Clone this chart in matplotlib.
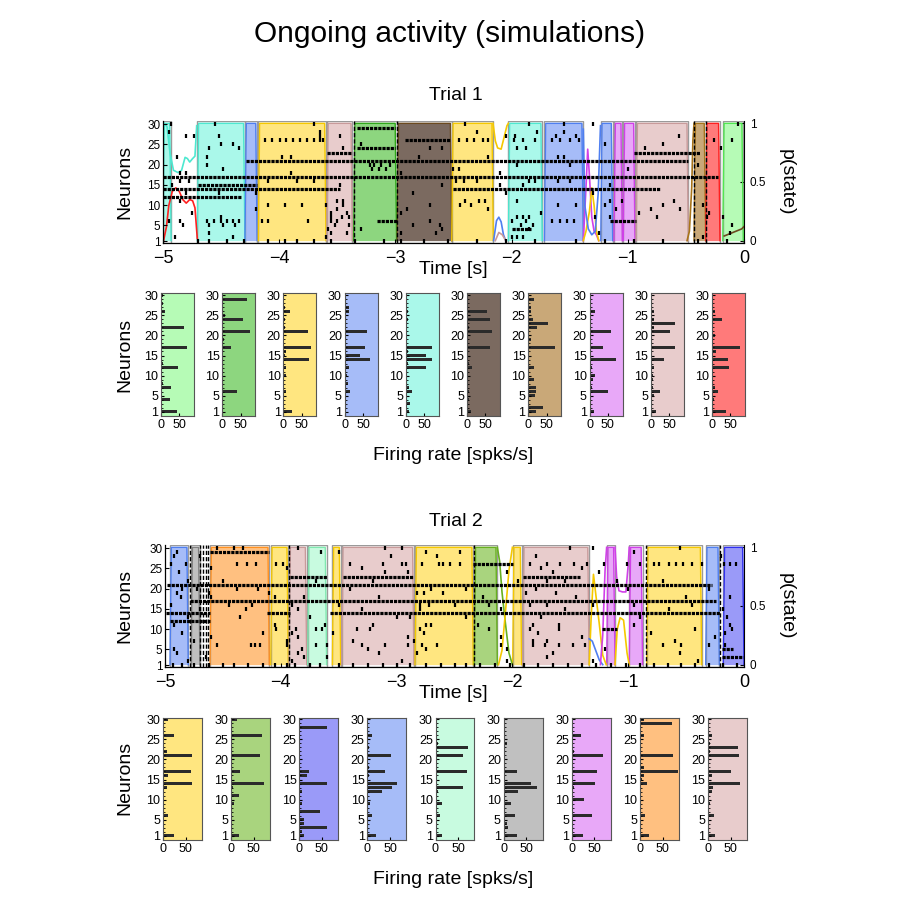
import numpy as np
import matplotlib.pyplot as plt

plt.rcParams['font.family'] = ['Liberation Sans', 'DejaVu Sans']

W = H = 915

# state colours: fill and curve colour
FILL = {
    'lgreen': '#b6fbb6', 'green': '#8dd67f', 'yellow': '#ffe680', 'blue': '#a6bcf8',
    'aqua': '#aaf8ea', 'brown': '#7b6a60', 'tan': '#c9a878', 'violet': '#e8a8f8',
    'pink': '#e8cccc', 'red': '#ff7a7a', 'ygreen': '#a9d47e', 'bviolet': '#9a9af8',
    'mint': '#c8fbe0', 'grey': '#c0c0c0', 'orange': '#ffc080',
}
EDGE = {
    'lgreen': '#50e850', 'green': '#2fa81a', 'yellow': '#f5c800', 'blue': '#4f7ff0',
    'aqua': '#4de8d0', 'brown': '#6b4a20', 'tan': '#a8741a', 'violet': '#d040e8',
    'pink': '#c89a9a', 'red': '#ff2020', 'ygreen': '#68b020', 'bviolet': '#3030f0',
    'mint': '#80e8b0', 'grey': '#808080', 'orange': '#ff9020',
}

neurons = np.arange(1, 31)

# ---------------- Trial 1 ----------------
t1_seg_start = [-5.00, -4.705, -4.295, -4.18, -3.59, -3.36, -2.985, -2.515, -2.028, -1.718,
                -1.233, -1.119, -1.039, -0.929, -0.430, -0.330, -0.183]
t1_seg_end = [-4.93, -4.295, -4.19, -3.597, -3.37, -2.99, -2.515, -2.157, -1.736, -1.383,
              -1.130, -1.047, -0.938, -0.479, -0.330, -0.207, -0.006]
t1_seg_state = ['aqua', 'aqua', 'blue', 'yellow', 'pink', 'green', 'brown', 'yellow', 'aqua', 'blue',
                'blue', 'violet', 'violet', 'pink', 'tan', 'red', 'lgreen']

# dense spike trains: neuron, start, end
t1_dense = [(17, -5.0, -0.22), (14, -5.0, -3.48), (14, -2.50, -0.72), (12, -5.0, -4.33),
            (15, -4.70, -4.19), (21, -4.29, -0.48), (23, -3.59, -3.37), (23, -0.95, -0.38),
            (29, -3.33, -3.00), (24, -3.33, -3.00), (26, -2.92, -2.53), (6, -3.16, -2.99),
            (6, -1.15, -0.93), (4, -2.00, -1.83)]

t1_sparse = {
    30: [-4.93, -4.55, -3.70, -2.40, -1.85, -1.55, -1.30, -0.05],
    28: [-4.95, -3.65, -2.30, -1.78, -1.55],
    27: [-4.80, -4.73, -4.52, -3.65, -3.48, -2.05, -1.97, -1.62, -1.45, -0.56],
    26: [-4.12, -4.06, -3.99, -3.94, -3.88, -3.82, -3.76, -3.70, -3.65, -3.62, -2.45, -2.38,
         -2.32, -2.25, -2.20, -1.98, -1.90, -1.80, -1.65, -1.58, -1.50, -1.42, -0.26, -0.10],
    25: [-4.50, -4.40, -3.30, -1.20, -0.70],
    24: [-4.60, -4.35, -3.45, -2.70, -2.60, -1.95, -1.88, -0.85, -0.20],
    22: [-4.88, -4.62, -3.98, -3.90, -2.80, -2.20, -1.60, -1.55],
    20: [-4.62, -3.22, -3.18, -3.12, -3.05, -1.95, -1.50, -0.40],
    19: [-4.48, -3.20, -3.14, -3.08, -2.50, -2.45, -1.00],
    18: [-4.85, -4.80, -3.90, -2.95, -2.10],
    16: [-4.85, -4.78, -4.10, -3.85, -3.70, -2.48, -2.41, -2.30, -1.85, -1.80, -1.60, -1.50],
    15: [-4.92, -3.48, -2.60, -2.10, -1.90, -1.15],
    13: [-4.80, -4.52, -4.20, -2.85, -2.05, -1.30],
    11: [-4.85, -3.50, -3.45, -2.40, -2.28, -2.23, -1.95, -1.15, -1.05, -0.60],
    10: [-4.10, -3.95, -3.80, -3.60, -3.45, -2.70, -2.44, -2.35, -1.60, -1.45, -1.20, -0.70, -0.35],
    9: [-4.20, -3.50, -2.90, -2.20, -1.10, -0.80, -0.55],
    8: [-4.75, -3.55, -3.42, -2.95, -1.75, -0.90, -0.30],
    7: [-4.50, -3.55, -3.46, -3.40, -1.95, -1.90, -1.85, -1.28, -1.15, -0.75, -0.32, -0.18],
    6: [-4.95, -4.85, -4.62, -4.56, -4.50, -4.45, -4.40, -4.35, -4.15, -4.10, -3.75, -3.55,
        -3.50, -2.70, -2.00, -1.88, -1.65, -1.58, -1.52, -1.46],
    5: [-4.83, -4.60, -4.48, -4.38, -3.52, -3.40, -2.85, -2.62, -1.92, -1.82, -0.10],
    4: [-3.58, -3.30, -2.60, -1.85],
    3: [-4.60, -3.55, -3.42, -2.95, -2.65, -1.25, -0.12],
    2: [-4.90, -4.40, -3.60, -2.00, -1.95, -1.90, -0.35],
    1: [-4.70, -4.60, -4.45, -4.30, -4.10, -3.95, -3.85, -3.70, -3.55, -3.35, -3.10, -2.95,
        -2.75, -2.55, -2.30, -2.05, -1.80, -1.45, -1.20, -0.95, -0.70, -0.40, -0.15],
}
t1_bursts = [-3.36, -2.99, -0.43, -0.33]

# p(state) curves outside the detected states: state, times, probabilities
t1_curves = [
    ('aqua', [-4.99, -4.965, -4.94, -4.91, -4.87, -4.84, -4.81, -4.79, -4.77, -4.745, -4.725, -4.71],
             [1.0, 0.97, 0.75, 0.60, 0.58, 0.60, 0.71, 0.70, 0.67, 0.70, 0.72, 0.98]),
    ('red', [-4.995, -4.97, -4.95, -4.92, -4.89, -4.86, -4.83, -4.80, -4.77, -4.745, -4.725, -4.705],
            [0.0, 0.12, 0.30, 0.42, 0.45, 0.42, 0.35, 0.32, 0.35, 0.34, 0.28, 0.02]),
    ('yellow', [-2.16, -2.14, -2.12, -2.09, -2.06, -2.04, -2.028], [1.0, 0.85, 0.79, 0.78, 0.90, 0.98, 1.0]),
    ('blue', [-2.155, -2.13, -2.11, -2.09, -2.07, -2.05], [0.0, 0.17, 0.20, 0.16, 0.05, 0.0]),
    ('pink', [-2.14, -2.11, -2.08, -2.05], [0.0, 0.07, 0.05, 0.0]),
    ('violet', [-1.383, -1.36, -1.345, -1.33, -1.31, -1.29, -1.27, -1.25],
               [0.0, 0.45, 0.78, 0.55, 0.20, 0.08, 0.05, 0.0]),
    ('yellow', [-1.383, -1.36, -1.33, -1.31, -1.29, -1.27, -1.25], [0.0, 0.08, 0.25, 0.45, 0.30, 0.08, 0.0]),
    ('blue', [-1.383, -1.37, -1.34, -1.31, -1.28, -1.255, -1.235], [0.95, 0.30, 0.10, 0.05, 0.08, 0.40, 0.98]),
    ('tan', [-0.49, -0.47, -0.45, -0.44, -0.43], [0.0, 0.08, 0.45, 0.85, 1.0]),
    ('brown', [-0.17, -0.12, -0.07, -0.02, 0.0], [0.04, 0.06, 0.08, 0.10, 0.12]),
]

t1_hist_states = ['lgreen', 'green', 'yellow', 'blue', 'aqua', 'brown', 'tan', 'violet', 'pink', 'red']
t1_rates = [
    [43, 2, 0, 25, 2, 3, 28, 6, 0, 2, 3, 45, 5, 2, 0, 2, 72, 2, 0, 2, 3, 62, 2, 0, 2, 12, 2, 5, 0, 5],
    [3, 0, 2, 0, 2, 41, 3, 0, 2, 0, 2, 0, 2, 0, 2, 2, 25, 3, 5, 0, 77, 2, 3, 56, 8, 2, 0, 2, 68, 2],
    [22, 2, 0, 2, 0, 6, 2, 0, 2, 8, 2, 7, 2, 70, 3, 8, 75, 2, 0, 2, 67, 5, 2, 3, 2, 18, 3, 0, 2, 0],
    [5, 2, 0, 2, 3, 15, 2, 8, 2, 6, 3, 13, 3, 68, 41, 3, 55, 2, 0, 2, 61, 2, 2, 4, 2, 13, 12, 2, 0, 2],
    [8, 2, 10, 2, 3, 17, 8, 2, 2, 2, 3, 54, 7, 70, 54, 5, 72, 2, 2, 0, 2, 2, 3, 6, 2, 6, 4, 2, 0, 2],
    [10, 2, 0, 6, 2, 4, 3, 2, 0, 2, 3, 12, 6, 2, 0, 2, 63, 2, 0, 2, 67, 4, 2, 63, 2, 54, 2, 0, 2, 2],
    [20, 39, 3, 2, 18, 22, 22, 2, 15, 3, 2, 15, 2, 0, 2, 2, 72, 2, 8, 2, 3, 25, 54, 12, 3, 6, 7, 2, 15, 2],
    [13, 2, 0, 2, 3, 51, 8, 2, 10, 14, 3, 6, 2, 73, 2, 3, 36, 2, 0, 2, 59, 2, 4, 2, 5, 14, 2, 0, 2, 2],
    [14, 2, 0, 2, 8, 25, 7, 2, 7, 5, 2, 10, 2, 37, 2, 3, 66, 2, 2, 0, 53, 10, 65, 10, 2, 8, 4, 2, 0, 2],
    [38, 2, 0, 6, 2, 15, 8, 2, 0, 2, 3, 45, 3, 44, 2, 12, 77, 2, 2, 9, 2, 2, 3, 26, 2, 9, 2, 0, 2, 2],
]

# ---------------- Trial 2 ----------------
t2_seg_start = [-4.957, -4.775, -4.611, -4.087, -3.929, -3.768, -3.555, -3.474, -2.841, -2.329,
                -1.998, -1.911, -1.186, -0.991, -0.840, -0.331, -0.179]
t2_seg_end = [-4.799, -4.698, -4.099, -3.935, -3.776, -3.604, -3.483, -2.850, -2.338, -2.130,
              -1.920, -1.337, -1.114, -0.876, -0.365, -0.213, 0.0]
t2_seg_state = ['blue', 'grey', 'orange', 'yellow', 'pink', 'mint', 'yellow', 'pink', 'yellow', 'ygreen',
                'yellow', 'pink', 'violet', 'violet', 'yellow', 'blue', 'bviolet']

t2_dense = [(21, -4.98, -0.28), (17, -4.78, -0.24), (14, -4.99, -4.61), (14, -4.12, -3.92),
            (14, -3.575, -0.21), (12, -4.96, -4.61), (23, -3.92, -3.60), (23, -3.46, -2.856),
            (23, -1.906, -1.416), (29, -4.611, -4.10), (26, -2.338, -1.993), (10, -1.229, -1.10),
            (3, -0.192, -0.006), (5, -0.192, -0.092)]

t2_sparse = {
    30: [-4.55, -4.40, -4.33, -3.85, -3.10, -2.95, -1.50, -1.30, -0.55],
    29: [-4.90, -3.65, -3.50, -2.75, -2.45, -0.95],
    28: [-4.92, -4.70, -3.05, -2.65, -1.80, -0.20],
    26: [-4.95, -4.82, -4.38, -4.29, -4.21, -4.04, -3.98, -3.40, -3.12, -2.95, -2.92, -2.78, -2.63,
         -2.60, -2.54, -2.45, -1.85, -1.70, -1.59, -1.47, -1.36, -1.21, -1.01, -0.90, -0.78, -0.73,
         -0.65, -0.59, -0.53, -0.45, -0.36, -0.17, -0.12, -0.07],
    25: [-4.60, -3.95, -3.30, -1.75, -1.40],
    24: [-4.88, -3.10, -2.90, -2.05, -1.65, -1.25],
    22: [-4.80, -4.50, -3.70, -3.20, -1.95, -1.70, -1.55, -1.10, -0.70],
    20: [-4.85, -4.72, -4.38, -4.20, -3.40, -2.70, -2.40, -1.80, -1.00, -0.30],
    19: [-4.90, -4.62, -4.10, -2.82, -2.76, -2.60, -1.88, -1.62],
    18: [-4.86, -4.60, -4.05, -3.80, -3.15, -2.25, -1.45, -0.50, -0.12],
    16: [-4.95, -4.45, -4.25, -3.90, -3.50, -2.80, -2.72, -2.50, -2.20, -1.85, -1.70, -1.30, -0.95, -0.45],
    15: [-4.70, -4.30, -3.85, -3.30, -2.80, -2.10, -1.55, -0.65, -0.18],
    13: [-4.80, -4.35, -3.75, -3.00, -2.88, -2.40, -1.75, -0.90, -0.15],
    11: [-4.92, -4.05, -3.62, -3.20, -2.75, -2.70, -2.30, -1.82, -1.60, -0.95, -0.12],
    10: [-4.04, -3.87, -3.70, -3.64, -3.34, -3.23, -2.80, -2.20, -1.85, -1.60, -0.42, -0.10],
    9: [-4.85, -4.15, -3.90, -3.55, -2.76, -1.78, -0.80, -0.16],
    8: [-4.60, -3.85, -2.90, -2.10, -1.40, -0.25],
    7: [-4.75, -3.95, -3.38, -2.85, -1.82, -1.70, -0.60],
    6: [-4.55, -4.26, -4.22, -4.18, -3.95, -3.70, -3.60, -3.30, -3.10, -2.90, -2.78, -2.65, -2.10,
        -1.82, -1.72, -1.60, -1.48, -1.37, -0.70, -0.54, -0.30, -0.16],
    5: [-4.92, -3.82, -3.25, -2.75, -2.05, -1.20],
    4: [-4.90, -3.85, -3.15, -2.82, -1.65, -0.55],
    3: [-4.65, -3.80, -3.60, -1.70],
    2: [-4.80, -3.90, -2.95, -2.05, -1.30, -0.40],
    1: [-4.93, -4.85, -4.75, -4.62, -4.50, -4.40, -4.28, -4.15, -4.05, -3.95, -3.88, -3.75, -3.66,
        -3.50, -3.38, -3.25, -3.12, -3.00, -2.88, -2.75, -2.62, -2.50, -2.40, -2.28, -2.15, -2.02,
        -1.90, -1.78, -1.65, -1.52, -1.40, -1.28, -1.15, -1.02, -0.90, -0.78, -0.66, -0.54, -0.42,
        -0.30, -0.18, -0.06],
}
t2_bursts = [-4.78, -4.70, -4.675, -4.65, -4.625, -3.93, -2.33, -0.85, -0.21]

t2_curves = [
    ('ygreen', [-2.13, -2.11, -2.09, -2.06, -2.03, -2.0], [1.0, 0.88, 0.62, 0.35, 0.10, 0.0]),
    ('yellow', [-2.12, -2.09, -2.06, -2.03, -2.0], [0.0, 0.12, 0.45, 0.80, 1.0]),
    ('yellow', [-1.337, -1.32, -1.30, -1.28, -1.25, -1.22, -1.19], [0.0, 0.40, 0.77, 0.60, 0.35, 0.08, 0.0]),
    ('blue', [-1.337, -1.31, -1.28, -1.25, -1.22], [0.22, 0.20, 0.12, 0.04, 0.0]),
    ('violet', [-1.24, -1.22, -1.20, -1.186], [0.0, 0.25, 0.80, 1.0]),
    ('violet', [-1.114, -1.10, -1.08, -1.05, -1.02, -1.00, -0.991], [1.0, 0.75, 0.63, 0.62, 0.62, 0.85, 1.0]),
    ('yellow', [-1.114, -1.095, -1.07, -1.04, -1.01, -0.991], [0.0, 0.30, 0.40, 0.38, 0.10, 0.0]),
]

t2_hist_states = ['yellow', 'ygreen', 'bviolet', 'blue', 'mint', 'grey', 'violet', 'orange', 'pink']
t2_rates = [
    [24, 2, 0, 2, 2, 10, 2, 0, 2, 3, 2, 3, 8, 65, 2, 10, 61, 3, 2, 2, 65, 8, 2, 0, 2, 25, 3, 2, 2, 10],
    [17, 2, 0, 2, 0, 2, 0, 2, 7, 2, 18, 2, 4, 72, 2, 3, 20, 3, 2, 0, 64, 3, 3, 2, 2, 69, 2, 0, 2, 13],
    [10, 5, 62, 10, 10, 2, 45, 2, 6, 2, 0, 6, 2, 62, 2, 16, 22, 2, 0, 2, 2, 0, 2, 0, 2, 2, 0, 62, 2, 2],
    [19, 2, 0, 2, 2, 10, 2, 0, 5, 2, 2, 33, 54, 65, 2, 3, 39, 3, 2, 2, 52, 2, 3, 2, 2, 10, 2, 0, 2, 2],
    [15, 2, 2, 3, 4, 10, 2, 2, 14, 2, 2, 5, 60, 2, 2, 2, 70, 2, 2, 2, 60, 2, 72, 5, 2, 2, 2, 0, 2, 2],
    [30, 3, 10, 8, 3, 25, 3, 2, 16, 2, 2, 32, 74, 60, 3, 2, 30, 2, 2, 0, 2, 2, 2, 8, 2, 2, 2, 2, 0, 2],
    [24, 2, 0, 2, 2, 45, 2, 0, 2, 27, 2, 2, 5, 52, 2, 3, 55, 2, 2, 2, 69, 6, 2, 2, 2, 21, 2, 0, 2, 2],
    [21, 2, 0, 2, 2, 11, 2, 0, 2, 2, 2, 2, 3, 16, 4, 10, 84, 10, 3, 2, 72, 3, 2, 2, 2, 10, 2, 2, 70, 8],
    [16, 2, 0, 2, 2, 14, 2, 0, 5, 2, 3, 8, 12, 70, 2, 8, 51, 3, 2, 2, 68, 5, 67, 5, 2, 8, 3, 2, 2, 2],
]


def px_axes(fig, left, top, right, bottom):
    return fig.add_axes([left / W, 1 - bottom / H, (right - left) / W, (bottom - top) / H])


def ftext(fig, x, y, s, **kw):
    fig.text(x / W, 1 - y / H, s, ha='center', va='center', **kw)


def draw_raster(fig, box, seg_start, seg_end, seg_state, dense, sparse, bursts, curves):
    ax = px_axes(fig, *box)
    ax2 = ax.twinx()
    ax.set_zorder(ax2.get_zorder() + 1)
    ax.patch.set_visible(False)

    # state fills on the p(state) axis, behind the spikes
    for t0, t1, st in zip(seg_start, seg_end, seg_state):
        r = min(0.012, (t1 - t0) / 4)
        xs = [t0, t0 + r, t1 - r, t1]
        ys = [0, 1, 1, 0]
        ax2.fill_between(xs, ys, 0, color=FILL[st], lw=0)
        ax2.plot(xs, ys, color=EDGE[st], lw=1.0)
        ax2.axvspan(t0, t1, fc='none', ec='#9a9a9a', lw=1.0)
    for st, ts, ps in curves:
        ax2.plot(ts, ps, color=EDGE[st], lw=1.2)
    ax2.set_ylim(-0.02, 1.02)
    ax2.set_yticks([0, 0.5, 1])
    ax2.set_yticklabels(['0', '0.5', '1'])
    ax2.tick_params(direction='in', labelsize=8.5, length=3, pad=4)
    for s in ['left', 'top', 'bottom']:
        ax2.spines[s].set_visible(False)
    ax2.spines['right'].set_linewidth(0.8)

    # spikes
    for n, t0, t1 in dense:
        ax.plot([t0, t1], [n, n], color='k', lw=2.3, dashes=(1.0, 0.3),
                dash_capstyle='butt')
    for n, times in sparse.items():
        ax.plot(times, [n] * len(times), ls='none', marker='|', ms=2.9, mew=1.6, color='k')
    for t in bursts:
        ax.plot([t, t], [0.6, 30.8], color='k', lw=1.0, dashes=(3, 1.5))

    ax.set_xlim(-5, 0)
    ax.set_ylim(0.6, 30.8)
    ax.set_xticks([-5, -4, -3, -2, -1, 0])
    ax.set_yticks([1, 5, 10, 15, 20, 25, 30])
    ax.tick_params(axis='x', direction='in', labelsize=13, length=3, pad=5)
    ax.tick_params(axis='y', direction='in', labelsize=8.5, length=3, pad=2)
    ax.spines['top'].set_visible(False)
    ax.spines['right'].set_visible(False)
    ax.spines['left'].set_linewidth(0.9)
    ax.spines['bottom'].set_linewidth(0.9)
    return ax


def draw_hists(fig, first_left, last_left, width, top, bottom, states, rates, xmax, ytop):
    step = (last_left - first_left) / (len(states) - 1)
    for i, (st, r) in enumerate(zip(states, rates)):
        left = first_left + i * step
        ax = px_axes(fig, left, top, left + width, bottom)
        ax.set_facecolor(FILL[st])
        ax.barh(neurons, r, height=0.95, color='#2b2b2b')
        ax.set_xlim(0, xmax)
        ax.set_ylim(-0.1, ytop)
        ax.set_xticks([0, 50])
        ax.set_yticks([1, 5, 10, 15, 20, 25, 30])
        ax.set_yticks(neurons, minor=True)
        ax.tick_params(direction='in', labelsize=9, length=2.5, pad=2)
        ax.tick_params(which='minor', direction='in', length=1.5)
        for s in ax.spines.values():
            s.set_color('#555555')
            s.set_linewidth(0.8)


fig = plt.figure(figsize=(W / 100, H / 100), dpi=100)

ftext(fig, 450, 34, 'Ongoing activity (simulations)', fontsize=21.5)

# Trial 1
ftext(fig, 456, 95, 'Trial 1', fontsize=14)
draw_raster(fig, (163, 121, 744, 243), t1_seg_start, t1_seg_end, t1_seg_state,
            t1_dense, t1_sparse, t1_bursts, t1_curves)
ftext(fig, 453, 270, 'Time [s]', fontsize=14)
ftext(fig, 125, 182, 'Neurons', fontsize=14, rotation=90)
ftext(fig, 786, 182, 'p(state)', fontsize=14, rotation=270)
draw_hists(fig, 161, 712, 33, 293, 416, t1_hist_states, t1_rates, 90, 30.6)
ftext(fig, 125, 355, 'Neurons', fontsize=14, rotation=90)
ftext(fig, 453, 456, 'Firing rate [spks/s]', fontsize=14)

# Trial 2
ftext(fig, 456, 521, 'Trial 2', fontsize=14)
draw_raster(fig, (165, 545, 744, 667), t2_seg_start, t2_seg_end, t2_seg_state,
            t2_dense, t2_sparse, t2_bursts, t2_curves)
ftext(fig, 453, 694, 'Time [s]', fontsize=14)
ftext(fig, 125, 606, 'Neurons', fontsize=14, rotation=90)
ftext(fig, 786, 606, 'p(state)', fontsize=14, rotation=270)
draw_hists(fig, 163, 708, 39, 718, 840, t2_hist_states, t2_rates, 86, 30.35)
ftext(fig, 125, 778, 'Neurons', fontsize=14, rotation=90)
ftext(fig, 453, 880, 'Firing rate [spks/s]', fontsize=14)

fig.savefig('out.png', dpi=100)
